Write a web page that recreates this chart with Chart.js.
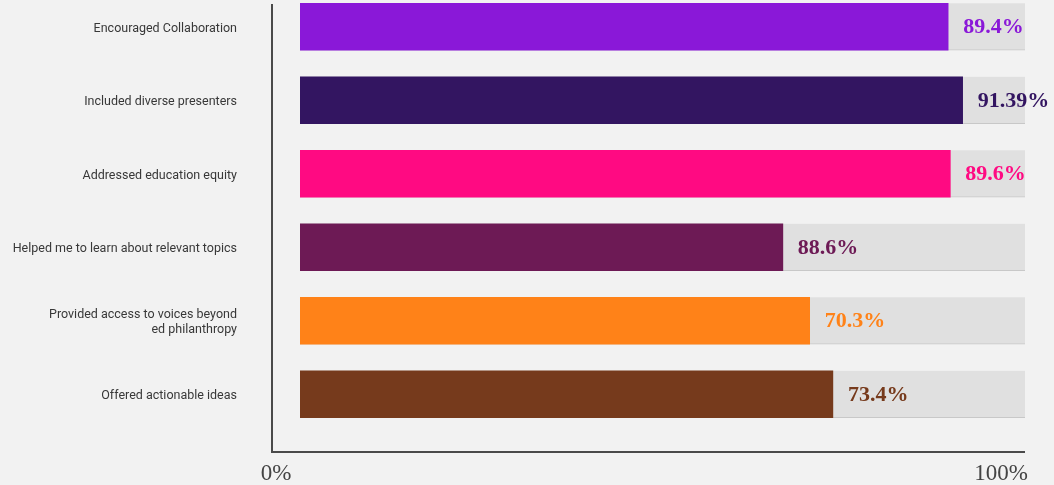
<!DOCTYPE html>
<html>
<head>
<meta charset="utf-8">
<script src="https://cdn.jsdelivr.net/npm/chart.js@4.4.1/dist/chart.umd.min.js"></script>
<style>
  html, body { margin: 0; padding: 0; background: #f2f2f2; }
  #outer { position: relative; width: 1054px; height: 485px; overflow: hidden; }
  #wrap { position: absolute; left: 0; top: -10px; width: 1054px; height: 495px; }
</style>
</head>
<body>
<div id="outer"><div id="wrap"><canvas id="c"></canvas></div></div>
<script>
const categories = [
  'Encouraged Collaboration',
  'Included diverse presenters',
  'Addressed education equity',
  'Helped me to learn about relevant topics',
  ['Provided access to voices beyond', 'ed philanthropy'],
  'Offered actionable ideas'
];
const barValues = [89.4, 91.4, 89.7, 66.6, 70.3, 73.5];
const valueLabels = ['89.4%', '91.39%', '89.6%', '88.6%', '70.3%', '73.4%'];
const trackValues = [100, 100, 100, 100, 100, 100];
const barColors = ['#8a18d8', '#331561', '#ff0a82', '#6d1a55', '#ff8218', '#763a1c'];
const xTickValues = [0, 100];

function zeroPadding(scale) {
  scale.paddingTop = 0;
  scale.paddingBottom = 0;
  scale.paddingLeft = 0;
  scale.paddingRight = 0;
}

const frame = {
  id: 'frame',
  afterDraw(chart) {
    const { ctx, chartArea } = chart;
    const x0 = chartArea.left - 28;
    const yb = chartArea.bottom + 21;
    ctx.save();
    ctx.strokeStyle = '#4a4a4a';
    ctx.lineWidth = 2;
    ctx.beginPath();
    ctx.moveTo(x0, chartArea.top + 14);
    ctx.lineTo(x0, yb);
    ctx.lineTo(chartArea.right, yb);
    ctx.stroke();
    ctx.restore();
  }
};

const valueText = {
  id: 'valueText',
  afterDatasetsDraw(chart) {
    const { ctx } = chart;
    const meta = chart.getDatasetMeta(0);
    ctx.save();
    ctx.font = 'bold 22px "Liberation Serif", serif';
    ctx.textBaseline = 'middle';
    ctx.textAlign = 'left';
    meta.data.forEach((bar, i) => {
      ctx.fillStyle = barColors[i];
      ctx.fillText(valueLabels[i], bar.x + 15, bar.y + 1);
    });
    ctx.restore();
  }
};

new Chart(document.getElementById('c'), {
  type: 'bar',
  data: {
    labels: categories,
    datasets: [
      {
        data: barValues,
        backgroundColor: barColors,
        barThickness: 47,
        grouped: false,
        order: 0
      },
      {
        data: trackValues,
        backgroundColor: '#e0e0e0',
        borderColor: '#c8c8c8',
        borderWidth: { top: 0, left: 0, right: 0, bottom: 1 },
        borderSkipped: false,
        barThickness: 47,
        grouped: false,
        order: 1
      }
    ]
  },
  options: {
    indexAxis: 'y',
    responsive: true,
    maintainAspectRatio: false,
    animation: false,
    layout: { padding: { top: 0, right: 29, left: 0, bottom: 0 } },
    plugins: { legend: { display: false }, tooltip: { enabled: false } },
    scales: {
      y: {
        type: 'category',
        offset: true,
        grid: { display: false, drawTicks: false },
        border: { display: false },
        ticks: {
          color: '#383838',
          padding: 63,
          labelOffset: 2,
          font: { family: 'Roboto', size: 12.5 }
        },
        afterFit(scale) { scale.width = 300; zeroPadding(scale); }
      },
      x: {
        type: 'linear',
        min: 0,
        max: 100,
        grid: { display: false, drawTicks: false },
        border: { display: false },
        afterBuildTicks(scale) { scale.ticks = xTickValues.map(v => ({ value: v })); },
        ticks: {
          color: '#444444',
          padding: 29,
          labelOffset: -24,
          maxRotation: 0,
          font: { family: '"Liberation Serif", serif', size: 23 },
          callback: v => v + '%'
        },
        afterFit(scale) { scale.height = 54; zeroPadding(scale); }
      }
    }
  },
  plugins: [frame, valueText]
});
</script>
</body>
</html>
